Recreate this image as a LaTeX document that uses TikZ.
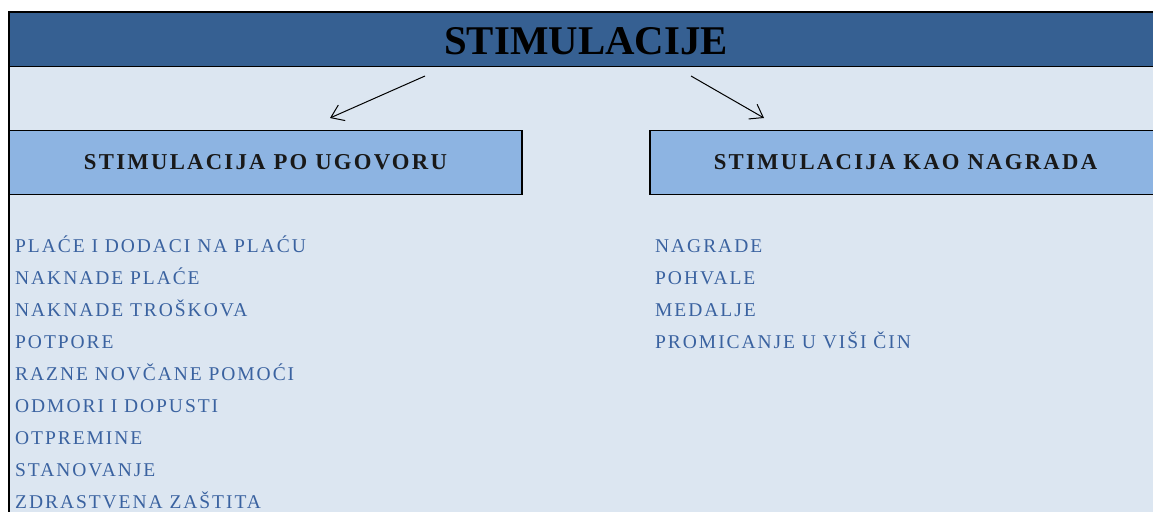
\documentclass[tikz,border=0pt]{standalone}
\usepackage{fontspec}
\setmainfont{Liberation Serif}
\newfontfamily\headfont[LetterSpace=10]{Liberation Serif}
\newfontfamily\listfont[LetterSpace=10]{Liberation Serif}
\usetikzlibrary{arrows.meta}
\definecolor{titleblue}{HTML}{366092}
\definecolor{boxblue}{HTML}{8DB4E2}
\definecolor{paleblue}{HTML}{DCE6F1}
\definecolor{textblue}{HTML}{3A62A0}
\tikzset{
  headbox/.style={draw,line width=1.5pt,fill=boxblue,minimum height=64pt,inner sep=0pt,
    text=black!90,font=\headfont\bfseries\fontsize{22.7}{24}\selectfont},
  listitem/.style={anchor=base west,inner sep=0pt,text=textblue,
    font=\listfont\fontsize{19.5}{21}\selectfont},
  pointer/.style={line width=1pt,-{Straight Barb[length=12pt,width=17pt]}}
}
\begin{document}
\begin{tikzpicture}[x=1pt,y=-1pt]
        \clip (0,0) rectangle (1153,511);
        \fill [paleblue] (9,12) rectangle (1180,520);
        \fill [titleblue] (9,12) rectangle (1180,66.5);
        \draw [line width=1.5pt] (9,520) -- (9,12) -- (1180,12);
        \draw [line width=1.5pt] (9,66.5) -- (1180,66.5);
        \node [inner sep=0pt,font=\bfseries\fontsize{40.8}{42}\selectfont] (title) at (586,41.5) {STIMULACIJE};
        % two kinds of stimulation
        \node [headbox,minimum width=513pt] (ugovor) at (265.5,162.5) {STIMULACIJA PO UGOVORU};
        \node [headbox,minimum width=511pt] (nagrada) at (905.5,162.5) {STIMULACIJA KAO NAGRADA};
        \coordinate (from1) at (425,76);
        \coordinate (to1) at (330,118);
        \coordinate (from2) at (691,76);
        \coordinate (to2) at (764,118);
        \draw [pointer] (from1) -- (to1);
        \draw [pointer] (from2) -- (to2);
        % lists
        \foreach \txt [count=\i] in {PLAĆE I DODACI NA PLAĆU,NAKNADE PLAĆE,NAKNADE TROŠKOVA,POTPORE,RAZNE NOVČANE POMOĆI,ODMORI I DOPUSTI,OTPREMINE,STANOVANJE,ZDRASTVENA ZAŠTITA}
            \node [listitem] (ug\i) at (15,{252.5+32*(\i-1)}) {\txt};
        \foreach \txt [count=\i] in {NAGRADE,POHVALE,MEDALJE,PROMICANJE U VIŠI ČIN}
            \node [listitem] (na\i) at (655,{252.5+32*(\i-1)}) {\txt};
\end{tikzpicture}
\end{document}
